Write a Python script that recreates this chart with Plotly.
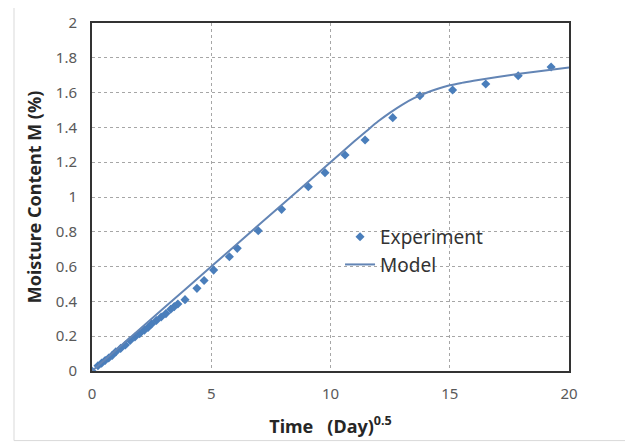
import plotly.graph_objects as go

exp_x = [0, 0.25, 0.4, 0.55, 0.7, 0.85, 1.0, 1.2, 1.4, 1.6, 1.8, 2.0, 2.2, 2.35, 2.5, 2.7,
         2.9, 3.1, 3.3, 3.45, 3.6, 3.9, 4.4, 4.7, 5.1, 5.76, 6.09, 6.97, 7.95, 9.07, 9.77,
         10.61, 11.45, 12.61, 13.75, 15.12, 16.51, 17.87, 19.25]
exp_y = [0, 0.03, 0.045, 0.06, 0.075, 0.09, 0.11, 0.13, 0.15, 0.175, 0.195, 0.215, 0.235,
         0.25, 0.27, 0.29, 0.31, 0.33, 0.355, 0.37, 0.385, 0.41, 0.475, 0.52, 0.58, 0.657,
         0.705, 0.806, 0.929, 1.059, 1.14, 1.241, 1.328, 1.456, 1.582, 1.615, 1.649, 1.697, 1.747]

model_x = [0, 2, 4, 6, 8, 10, 11, 11.5, 12, 12.5, 13, 13.5, 14, 14.5, 15, 15.5, 16,
           17, 18, 19, 20]
model_y = [0, 0.24, 0.48, 0.72, 0.96, 1.2, 1.32, 1.378, 1.435, 1.485, 1.53, 1.568, 1.598,
           1.622, 1.642, 1.656, 1.668, 1.69, 1.71, 1.727, 1.745]

x_ticks = [0, 5, 10, 15, 20]
y_ticks = [0, 0.2, 0.4, 0.6, 0.8, 1, 1.2, 1.4, 1.6, 1.8, 2]

fig = go.Figure()
fig.add_trace(go.Scatter(x=exp_x, y=exp_y, mode="markers", name="Experiment",
                         marker=dict(symbol="diamond", size=7, color="#4a7ebb")))
fig.add_trace(go.Scatter(x=model_x, y=model_y, mode="lines", name="Model",
                         line=dict(color="#6385b5", width=2, shape="spline", smoothing=0.8)))

axis_common = dict(showline=True, linecolor="#333333", linewidth=2, mirror=True,
                   showgrid=True, gridcolor="#a6a6a6", griddash="dot", gridwidth=1,
                   zeroline=False, ticks="", automargin=False,
                   tickfont=dict(family="Noto Sans", size=15, color="#595959"))

fig.update_layout(
    width=633, height=442,
    margin=dict(l=84, r=72, t=15, b=79),
    paper_bgcolor="white", plot_bgcolor="white",
    xaxis=dict(range=[0, 20], tickvals=x_ticks, ticktext=[str(v) for v in x_ticks],
               ticklabelstandoff=8,
               title=dict(text="<b>Time   (Day)<sup>0.5</sup></b>", standoff=18,
                          font=dict(family="Noto Sans", size=18, color="#262626")),
               **axis_common),
    yaxis=dict(range=[0, 2], tickvals=y_ticks, ticktext=[f"{v:g}" for v in y_ticks],
               ticklabelstandoff=10,
               title=dict(text="<b>Moisture Content M (%)</b>", standoff=10,
                          font=dict(family="Noto Sans", size=18, color="#262626")),
               **axis_common),
    legend=dict(x=0.52, y=0.44, xanchor="left", yanchor="top",
                bgcolor="rgba(0,0,0,0)", font=dict(family="Noto Sans", size=19, color="#333333"),
                tracegroupgap=0, itemwidth=30),
    shapes=[dict(type="rect", xref="paper", yref="paper",
                 x0=-0.1635, x1=1.1279, y0=-0.2, y1=1.049,
                 line=dict(color="#d9d9d9", width=1), layer="below")],
    showlegend=True,
)

fig.write_html("out.html")
